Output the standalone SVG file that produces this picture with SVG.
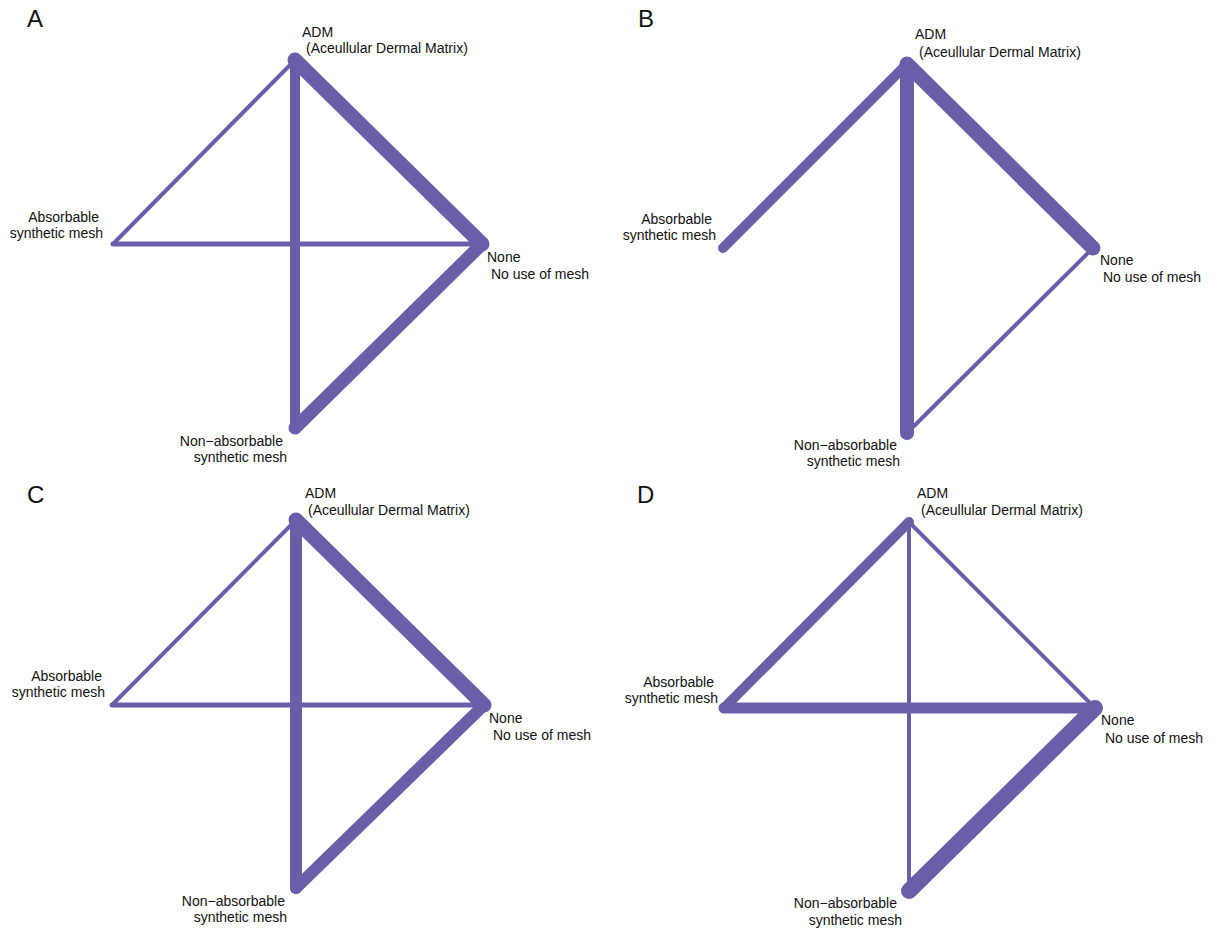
<svg xmlns="http://www.w3.org/2000/svg" width="1214" height="930" viewBox="0 0 1214 930">
<style>
.bg{fill:#ffffff}
.e{stroke:#6a5ea9;stroke-linecap:round;fill:none}
.t{font-family:"Liberation Sans",Arial,sans-serif;font-size:14px;fill:#111}
.te{font-family:"Liberation Sans",Arial,sans-serif;font-size:14px;fill:#111;text-anchor:end}
.p{font-family:"Liberation Sans",Arial,sans-serif;font-size:24px;fill:#111}
</style>
<rect class="bg" x="0" y="0" width="1214" height="930"/>
<g id="connectors">
  <g id="edges-A">
    <line class="e" x1="295" y1="60" x2="113" y2="244" stroke-width="4"/>
    <line class="e" x1="295" y1="60" x2="482" y2="244" stroke-width="15"/>
    <line class="e" x1="295" y1="60" x2="295" y2="428" stroke-width="10"/>
    <line class="e" x1="113" y1="244" x2="482" y2="244" stroke-width="5"/>
    <line class="e" x1="482" y1="244" x2="295" y2="428" stroke-width="13"/>
  </g>
  <g id="edges-B">
    <line class="e" x1="907" y1="64" x2="723" y2="248" stroke-width="10"/>
    <line class="e" x1="907" y1="64" x2="1093" y2="248" stroke-width="15"/>
    <line class="e" x1="907" y1="64" x2="907" y2="433" stroke-width="14"/>
    <line class="e" x1="1093" y1="248" x2="907" y2="433" stroke-width="4"/>
  </g>
  <g id="edges-C">
    <line class="e" x1="296" y1="520" x2="112" y2="705" stroke-width="4"/>
    <line class="e" x1="296" y1="520" x2="484" y2="705" stroke-width="15"/>
    <line class="e" x1="296" y1="520" x2="296" y2="888" stroke-width="12"/>
    <line class="e" x1="112" y1="705" x2="484" y2="705" stroke-width="5"/>
    <line class="e" x1="484" y1="705" x2="296" y2="888" stroke-width="12"/>
  </g>
  <g id="edges-D">
    <line class="e" x1="909" y1="522" x2="724" y2="708" stroke-width="10"/>
    <line class="e" x1="909" y1="522" x2="1095" y2="708" stroke-width="4"/>
    <line class="e" x1="909" y1="522" x2="909" y2="891" stroke-width="4"/>
    <line class="e" x1="724" y1="708" x2="1095" y2="708" stroke-width="11"/>
    <line class="e" x1="1095" y1="708" x2="909" y2="891" stroke-width="16"/>
  </g>
</g>
<g id="panel-labels">
  <text class="p" x="27" y="27">A</text>
  <text class="p" x="638" y="27">B</text>
  <text class="p" x="27" y="503">C</text>
  <text class="p" x="637" y="503">D</text>
</g>
<g id="A-adm"><text class="t" x="302" y="37">ADM</text><text class="t" x="306" y="53">(Aceullular Dermal Matrix)</text></g>
<g id="A-abs"><text class="te" x="99" y="222">Absorbable</text><text class="te" x="103" y="238">synthetic mesh</text></g>
<g id="A-none"><text class="t" x="487" y="262">None</text><text class="t" x="491" y="279">No use of mesh</text></g>
<g id="A-nonabs"><text class="te" x="283" y="446">Non−absorbable</text><text class="te" x="287" y="462">synthetic mesh</text></g>

<g id="B-adm"><text class="t" x="915" y="39">ADM</text><text class="t" x="919" y="57">(Aceullular Dermal Matrix)</text></g>
<g id="B-abs"><text class="te" x="712" y="224">Absorbable</text><text class="te" x="716" y="240">synthetic mesh</text></g>
<g id="B-none"><text class="t" x="1100" y="265">None</text><text class="t" x="1103" y="282">No use of mesh</text></g>
<g id="B-nonabs"><text class="te" x="897" y="450">Non−absorbable</text><text class="te" x="900" y="466">synthetic mesh</text></g>

<g id="C-adm"><text class="t" x="305" y="498">ADM</text><text class="t" x="308" y="515">(Aceullular Dermal Matrix)</text></g>
<g id="C-abs"><text class="te" x="102" y="681">Absorbable</text><text class="te" x="105" y="697">synthetic mesh</text></g>
<g id="C-none"><text class="t" x="489" y="723">None</text><text class="t" x="493" y="740">No use of mesh</text></g>
<g id="C-nonabs"><text class="te" x="285" y="906">Non−absorbable</text><text class="te" x="287" y="922">synthetic mesh</text></g>

<g id="D-adm"><text class="t" x="917" y="498">ADM</text><text class="t" x="921" y="515">(Aceullular Dermal Matrix)</text></g>
<g id="D-abs"><text class="te" x="714" y="687">Absorbable</text><text class="te" x="718" y="703">synthetic mesh</text></g>
<g id="D-none"><text class="t" x="1101" y="725">None</text><text class="t" x="1105" y="743">No use of mesh</text></g>
<g id="D-nonabs"><text class="te" x="897" y="908">Non−absorbable</text><text class="te" x="902" y="925">synthetic mesh</text></g>
</svg>
